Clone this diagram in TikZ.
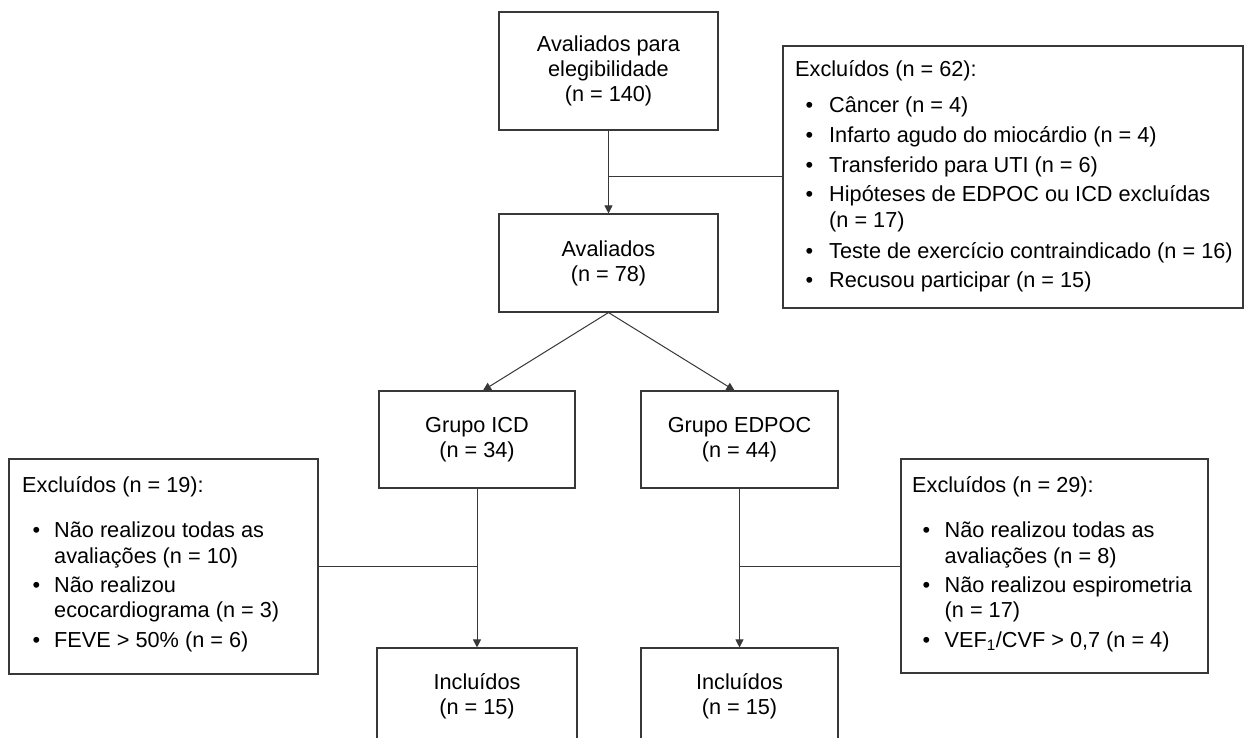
\documentclass[tikz,border=0pt]{standalone}
\usepackage{fontspec}
\setmainfont{Liberation Sans}
\usetikzlibrary{arrows.meta}
\newcommand\bl[1][16pt]{\llap{\textbullet\hspace{#1}}}
\begin{document}
\begin{tikzpicture}[x=1pt,y=-1pt,
  box/.style={draw=black!78,line width=1.1pt,inner sep=0pt,align=center,
    font=\fontsize{21.7}{25}\selectfont},
  ln/.style={draw=black!78,line width=1pt},
  arr/.style={ln,-{Triangle[width=8pt,length=8pt]}},
  tx/.style={anchor=base west,inner sep=0pt,font=\fontsize{21.7}{25}\selectfont}]
\useasboundingbox (0,0) rectangle (1249,738);
\clip (0,0) rectangle (1249,738);
\fill[white] (0,0) rectangle (1249,738);
% main boxes
\node[box,minimum width=219pt,minimum height=118pt] (top) at (608.5,71) {Avaliados para\\elegibilidade\\(n = 140)};
\node[box,minimum width=219pt,minimum height=98pt] (aval) at (608.5,263) {Avaliados\\(n = 78)};
\node[box,minimum width=196pt,minimum height=97pt] (icd) at (477,439.5) {Grupo ICD\\(n = 34)};
\node[box,minimum width=197pt,minimum height=97pt] (edpoc) at (739.5,439.5) {Grupo EDPOC\\(n = 44)};
\node[box,minimum width=200pt,minimum height=97pt] (inc1) at (477,696.5) {Incluídos\\(n = 15)};
\node[box,minimum width=197pt,minimum height=97pt] (inc2) at (739.5,696.5) {Incluídos\\(n = 15)};
% exclusion boxes
\node[box,minimum width=460pt,minimum height=262pt] (ex1) at (1013,177) {};
\node[box,minimum width=309pt,minimum height=215pt] (ex2) at (163.5,566.5) {};
\node[box,minimum width=307pt,minimum height=214pt] (ex3) at (1054.5,566) {};
% texts of ex1
\node[tx] (e1h) at (795,77) {Excluídos (n = 62):};
\node[tx] (e1a) at (829,113) {\bl Câncer (n = 4)};
\node[tx] (e1b) at (829,143) {\bl Infarto agudo do miocárdio (n = 4)};
\node[tx] (e1c) at (829,172) {\bl Transferido para UTI (n = 6)};
\node[tx] (e1d) at (829,201) {\bl Hipóteses de EDPOC ou ICD excluídas};
\node[tx] (e1e) at (829,227) {(n = 17)};
\node[tx] (e1f) at (829,258) {\bl Teste de exercício contraindicado (n = 16)};
\node[tx] (e1g) at (829,287) {\bl Recusou participar (n = 15)};
% texts of ex2
\node[tx] (e2h) at (22,492) {Excluídos (n = 19):};
\node[tx] (e2a) at (54,537.5) {\bl[14pt]Não realizou todas as};
\node[tx] (e2b) at (54,563) {avaliações (n = 10)};
\node[tx] (e2c) at (54,592) {\bl[14pt]Não realizou};
\node[tx] (e2d) at (54,617) {ecocardiograma (n = 3)};
\node[tx] (e2e) at (54,647.5) {\bl[14pt]FEVE > 50\% (n = 6)};
% texts of ex3
\node[tx] (e3h) at (912,492) {Excluídos (n = 29):};
\node[tx] (e3a) at (944.5,537.5) {\bl[14.5pt]Não realizou todas as};
\node[tx] (e3b) at (944.5,563) {avaliações (n = 8)};
\node[tx] (e3c) at (944.5,592) {\bl[14.5pt]Não realizou espirometria};
\node[tx] (e3d) at (944.5,617) {(n = 17)};
\node[tx] (e3e) at (944.5,647.5) {\bl[14.5pt]VEF\textsubscript{1}/CVF > 0,7 (n = 4)};
% connectors
\draw[arr] (top.south) -- (aval.north);
\draw[ln] (ex1.west) -- (ex1.west -| top.south);
\draw[arr] (aval.south) -- ([xshift=6pt]icd.north);
\draw[arr] (aval.south) -- ([xshift=-5pt]edpoc.north);
\draw[arr] (icd.south) -- (inc1.north);
\draw[arr] (edpoc.south) -- (inc2.north);
\draw[ln] (ex2.east) -- (ex2.east -| icd.south);
\draw[ln] (ex3.west) -- (ex3.west -| edpoc.south);
\end{tikzpicture}
\end{document}
